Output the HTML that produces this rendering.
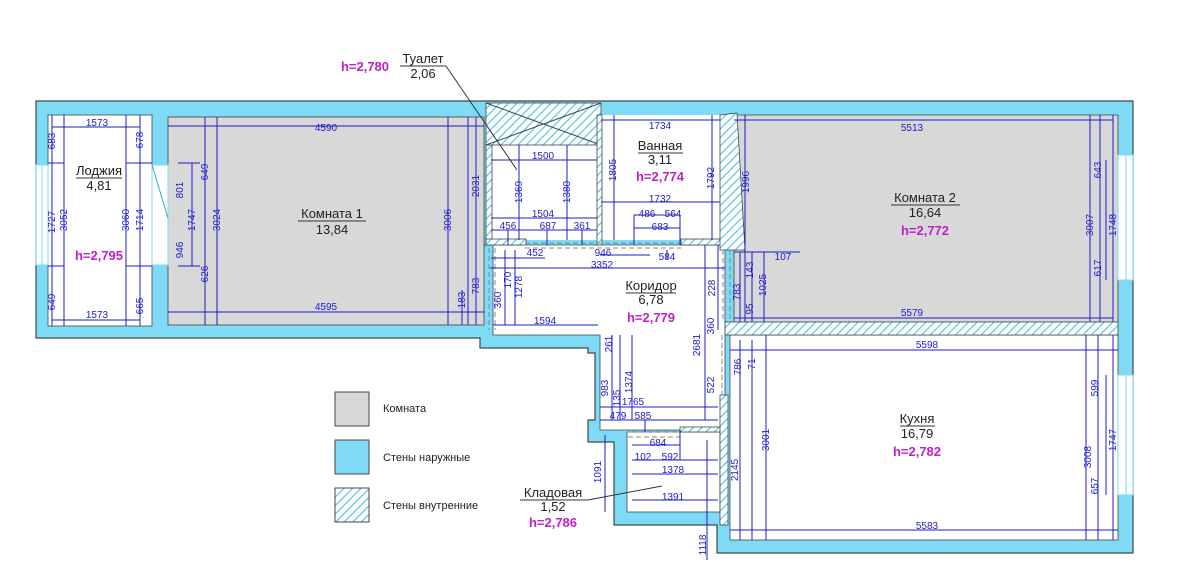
<!DOCTYPE html>
<html><head><meta charset="utf-8"><style>
body{margin:0;background:#fff;}
svg{display:block;font-family:"Liberation Sans","DejaVu Sans",sans-serif;}
.d{fill:#1c1ccc;font-size:10px;text-anchor:middle;}
.l{fill:#222;font-size:13px;text-anchor:middle;}
.h{fill:#c020c8;font-size:13px;text-anchor:middle;font-weight:bold;}
.dl{stroke:#1c1ccc;stroke-width:1;fill:none;}
.w{fill:#7fdaf6;stroke:#3a4a4a;stroke-width:1.2;}
.g{fill:#d8d8d8;stroke:#444;stroke-width:0.8;}
.hz{fill:url(#hat);stroke:#3a4a4a;stroke-width:0.8;}
.ds{stroke:#888;stroke-width:1;stroke-dasharray:5,3;fill:none;}
</style></head><body>
<svg width="1179" height="585" viewBox="0 0 1179 585" xmlns="http://www.w3.org/2000/svg">
<defs>
<pattern id="hat" width="6" height="6" patternUnits="userSpaceOnUse" patternTransform="rotate(45)">
<rect width="6" height="6" fill="#fff"/><line x1="0" y1="0" x2="0" y2="6" stroke="#4fc0e0" stroke-width="2.2"/>
</pattern>
</defs>
<!-- outer walls -->
<path class="w" d="M36,101 H1133 V553 H717 V525 H614 V442 H588 V420 H595 V353 H588 V348 H480 V338 H36 Z"/>
<!-- interior cutouts -->
<rect x="48" y="115" width="104" height="211" fill="#fff" stroke="#3a4a4a" stroke-width="0.8"/>
<rect x="168" y="117" width="316" height="208" class="g"/>
<rect x="491" y="145" width="106" height="95" fill="#fff"/>
<rect x="601" y="115" width="119" height="125" fill="#fff"/>
<path class="g" d="M734,115 H1118 V322 H734 Z"/>
<!-- corridor -->
<path fill="#fff" stroke="#3a4a4a" stroke-width="0.8" d="M484,245 H725 V430 H600 V335 H493 V245 Z"/>
<!-- closet -->
<rect x="627" y="432" width="93" height="80" fill="#fff" stroke="#3a4a4a" stroke-width="0.8"/>
<!-- kitchen -->
<rect x="730" y="335" width="388" height="205" fill="#fff" stroke="#3a4a4a" stroke-width="0.8"/>
<!-- hatched internal walls -->
<rect class="hz" x="486" y="103" width="115" height="42"/>
<line x1="486" y1="103" x2="601" y2="145" stroke="#444"/><line x1="486" y1="145" x2="601" y2="103" stroke="#444"/>
<rect class="hz" x="486" y="145" width="6" height="100"/>
<rect class="hz" x="597" y="115" width="5" height="130"/>
<rect class="hz" x="486" y="239" width="40" height="6"/>
<rect class="hz" x="681" y="239" width="44" height="6"/>
<path class="hz" d="M720,115 L737,113 L745,250 L720,250 Z"/>
<rect class="hz" x="725" y="322" width="393" height="13"/>
<rect class="hz" x="720" y="395" width="8" height="130"/>
<rect class="hz" x="680" y="427" width="40" height="5"/>
<!-- windows -->
<rect x="36" y="165" width="12" height="100" fill="#fff" stroke="#7fdaf6"/>
<line x1="42" y1="165" x2="42" y2="265" stroke="#7fdaf6"/>
<rect x="152" y="165" width="16" height="100" fill="#fff" stroke="#7fdaf6"/>
<line x1="152" y1="165" x2="168" y2="218" stroke="#2ab0d0"/>
<rect x="1118" y="155" width="15" height="125" fill="#fff" stroke="#7fdaf6"/>
<line x1="1126" y1="155" x2="1126" y2="280" stroke="#7fdaf6"/>
<rect x="1118" y="375" width="15" height="120" fill="#fff" stroke="#7fdaf6"/>
<line x1="1126" y1="375" x2="1126" y2="495" stroke="#7fdaf6"/>
<!-- dashed door openings -->
<path class="ds" d="M525,243 H681 M525,248 H681 M489,248 V330 M495,248 V330 M723,250 V322 M730,250 V322 M722,335 V395 M628,432 H680 M628,437 H680"/>
<!-- dimension lines -->
<g class="dl">
<path d="M52,115 V326 M64,115 V326 M126,115 V326 M140,115 V326 M52,127 H140 M52,320 H140 M48,163 H64 M48,266 H64 M126,163 H152 M126,266 H152"/>
<path d="M168,126 H484 M168,312 H484 M178,163 H200 M178,266 H200 M192,163 V266 M205,117 V325 M217,117 V325 M448,117 V325 M468,117 V325 M476,117 V325 M462,290 V325"/>
<path d="M491,160 H597 M519,145 V240 M567,145 V240 M491,218 H597 M491,230 H597 M508,230 V245 M547,230 V245 M582,230 V245 M491,258 H545 M490,268 H725 M505,250 V325 M515,250 V325 M493,325 H598 M600,255 H650 M667,260 V250"/>
<path d="M601,120 H720 M614,115 V240 M712,115 V240 M601,202 H720 M634,215 H680 M634,228 H680 M634,215 V245 M680,215 V245"/>
<path d="M705,245 V420 M718,245 V330 M612,335 V420 M620,335 V420 M632,335 V420 M600,407 H718 M600,420 H718 M645,420 V432"/>
<path d="M734,120 H1113 M734,318 H1113 M745,115 V322 M734,252 H800 M740,252 V322 M752,252 V322 M764,252 V322 M1090,115 V322 M1100,115 V322 M1113,115 V322 M1106,160 V280"/>
<path d="M730,350 H1118 M730,530 H1118 M740,340 V540 M752,340 V540 M766,335 V540 M1086,335 V540 M1098,335 V540 M1113,335 V540 M1106,375 V495"/>
<path d="M632,445 H680 M632,460 H718 M632,474 H718 M632,500 H718 M605,435 V512 M707,440 V560 M680,430 V460"/>
</g>
<!-- dimension text -->
<g class="d">
<text x="97" y="126">1573</text><text x="97" y="318">1573</text>
<text transform="translate(55,141) rotate(-90)">683</text><text transform="translate(55,222) rotate(-90)">1727</text><text transform="translate(55,302) rotate(-90)">649</text>
<text transform="translate(67,220) rotate(-90)">3052</text><text transform="translate(129,220) rotate(-90)">3060</text><text transform="translate(143,220) rotate(-90)">1714</text>
<text transform="translate(143,140) rotate(-90)">678</text><text transform="translate(143,306) rotate(-90)">665</text>
<text x="326" y="131">4590</text><text x="326" y="310">4595</text>
<text transform="translate(183,190) rotate(-90)">801</text><text transform="translate(183,250) rotate(-90)">946</text><text transform="translate(195,220) rotate(-90)">1747</text>
<text transform="translate(208,172) rotate(-90)">649</text><text transform="translate(208,274) rotate(-90)">626</text><text transform="translate(220,220) rotate(-90)">3024</text>
<text transform="translate(451,220) rotate(-90)">3006</text><text transform="translate(479,186) rotate(-90)">2031</text><text transform="translate(479,286) rotate(-90)">783</text><text transform="translate(465,300) rotate(-90)">183</text>
<text x="543" y="159">1500</text><text transform="translate(522,192) rotate(-90)">1369</text><text transform="translate(570,192) rotate(-90)">1380</text>
<text x="543" y="217">1504</text><text x="508" y="229">456</text><text x="548" y="229">687</text><text x="582" y="229">361</text>
<text x="535" y="256">452</text><text transform="translate(511,280) rotate(-90)">170</text><text transform="translate(522,287) rotate(-90)">1278</text><text transform="translate(501,300) rotate(-90)">360</text>
<text x="545" y="324">1594</text>
<text x="660" y="129">1734</text><text transform="translate(616,170) rotate(-90)">1805</text><text transform="translate(714,178) rotate(-90)">1792</text>
<text x="660" y="202">1732</text><text x="647" y="217">486</text><text x="673" y="217">564</text><text x="660" y="230">683</text>
<text x="603" y="256">946</text><text x="602" y="268">3352</text><text x="667" y="260">584</text>
<text transform="translate(715,288) rotate(-90)">228</text><text transform="translate(700,345) rotate(-90)">2681</text><text transform="translate(714,326) rotate(-90)">360</text>
<text transform="translate(612,344) rotate(-90)">261</text><text transform="translate(608,388) rotate(-90)">983</text><text transform="translate(620,398) rotate(-90)">135</text><text transform="translate(632,382) rotate(-90)">1374</text>
<text transform="translate(714,385) rotate(-90)">522</text><text x="633" y="405">1765</text><text x="618" y="419">479</text><text x="643" y="419">585</text>
<text transform="translate(749,182) rotate(-90)">1996</text><text x="783" y="260">107</text><text transform="translate(753,270) rotate(-90)">143</text>
<text transform="translate(740,292) rotate(-90)">783</text><text transform="translate(766,285) rotate(-90)">1025</text><text transform="translate(753,309) rotate(-90)">95</text>
<text x="912" y="131">5513</text><text x="912" y="316">5579</text>
<text transform="translate(1093,225) rotate(-90)">3007</text><text transform="translate(1101,170) rotate(-90)">643</text><text transform="translate(1116,225) rotate(-90)">1748</text><text transform="translate(1101,268) rotate(-90)">617</text>
<text x="927" y="348">5598</text><text transform="translate(741,367) rotate(-90)">786</text><text transform="translate(755,364) rotate(-90)">71</text>
<text transform="translate(769,440) rotate(-90)">3001</text><text transform="translate(738,470) rotate(-90)">2145</text>
<text x="927" y="529">5583</text><text transform="translate(1091,457) rotate(-90)">3008</text><text transform="translate(1098,388) rotate(-90)">599</text>
<text transform="translate(1116,440) rotate(-90)">1747</text><text transform="translate(1098,486) rotate(-90)">657</text>
<text x="658" y="446">684</text><text x="643" y="460">102</text><text x="670" y="460">592</text><text x="673" y="473">1378</text><text x="673" y="500">1391</text>
<text transform="translate(601,472) rotate(-90)">1091</text><text transform="translate(706,545) rotate(-90)">1118</text>
</g>
<!-- room labels -->
<g>
<text class="l" x="99" y="175">Лоджия</text><line x1="76" y1="178" x2="122" y2="178" stroke="#333"/><text class="l" x="99" y="190">4,81</text><text class="h" x="99" y="260">h=2,795</text>
<text class="l" x="332" y="218">Комната  1</text><line x1="298" y1="221" x2="366" y2="221" stroke="#333"/><text class="l" x="332" y="234">13,84</text>
<text class="h" x="365" y="71">h=2,780</text>
<text class="l" x="423" y="63">Туалет</text><line x1="400" y1="66" x2="446" y2="66" stroke="#333"/><text class="l" x="423" y="78">2,06</text>
<line x1="446" y1="66" x2="517" y2="170" stroke="#333"/>
<text class="l" x="660" y="150">Ванная</text><line x1="638" y1="153" x2="683" y2="153" stroke="#333"/><text class="l" x="660" y="164">3,11</text><text class="h" x="660" y="181">h=2,774</text>
<text class="l" x="925" y="202">Комната  2</text><line x1="891" y1="205" x2="960" y2="205" stroke="#333"/><text class="l" x="925" y="217">16,64</text><text class="h" x="925" y="235">h=2,772</text>
<text class="l" x="651" y="290">Коридор</text><line x1="626" y1="293" x2="676" y2="293" stroke="#333"/><text class="l" x="651" y="304">6,78</text><text class="h" x="651" y="322">h=2,779</text>
<text class="l" x="917" y="423">Кухня</text><line x1="900" y1="426" x2="935" y2="426" stroke="#333"/><text class="l" x="917" y="438">16,79</text><text class="h" x="917" y="456">h=2,782</text>
<text class="l" x="553" y="497">Кладовая</text><line x1="520" y1="500" x2="588" y2="500" stroke="#333"/><line x1="588" y1="500" x2="662" y2="486" stroke="#333"/><text class="l" x="553" y="511">1,52</text><text class="h" x="553" y="527">h=2,786</text>
</g>
<!-- legend -->
<rect x="335" y="392" width="34" height="34" fill="#d8d8d8" stroke="#444"/>
<rect x="335" y="440" width="34" height="34" fill="#7fdaf6" stroke="#444"/>
<rect x="335" y="488" width="34" height="34" fill="url(#hat)" stroke="#444"/>
<g style="font-size:11px;fill:#222">
<text x="383" y="412">Комната</text>
<text x="383" y="461">Стены наружные</text>
<text x="383" y="509">Стены внутренние</text>
</g>
</svg>
</body></html>
